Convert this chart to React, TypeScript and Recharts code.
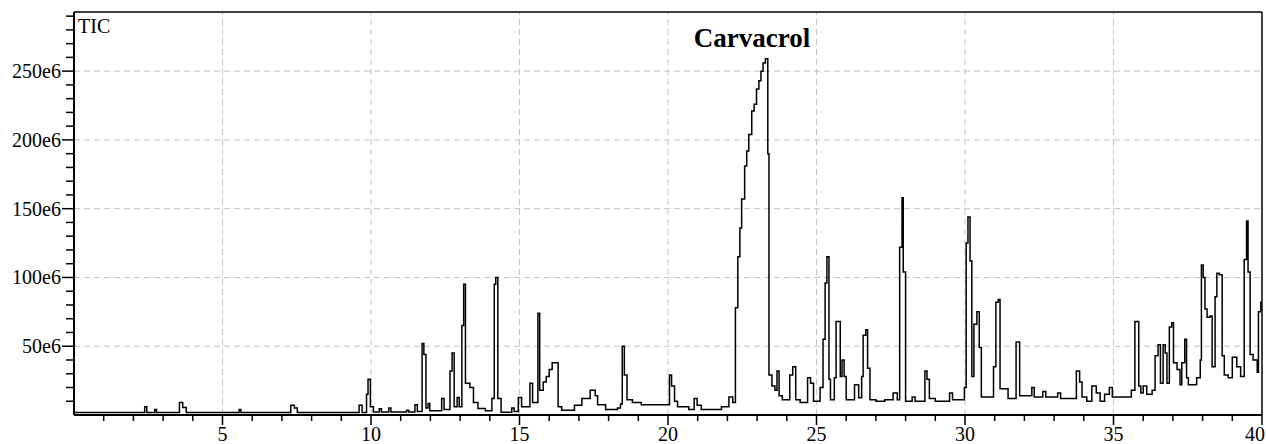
import React from 'react';
import { LineChart, Line, XAxis, YAxis, ReferenceLine, ReferenceDot } from 'recharts';

// retention time (min) and total ion current (x1e6)
const retentionTime = [
  0, 2.38, 2.45, 2.72, 2.78, 3.55, 3.66, 3.78, 5.56, 5.62, 7.3, 7.42, 7.52, 9.6, 9.7,
  9.85, 9.9, 9.98, 10.08, 10.28, 10.35, 10.6, 10.67, 11.2, 11.27, 11.48, 11.56, 11.72, 11.78, 11.85,
  11.92, 11.98, 12.38, 12.46, 12.66, 12.73, 12.8, 12.9, 12.97, 13.06, 13.12, 13.18, 13.33, 13.45, 13.6,
  13.85, 14.07, 14.15, 14.2, 14.27, 14.38, 14.74, 14.82, 14.96, 15.07, 15.35, 15.44, 15.62, 15.68, 15.8,
  15.9, 16.0, 16.1, 16.3, 16.42, 16.85, 17.1, 17.38, 17.55, 17.63, 17.9, 18.3, 18.4, 18.46, 18.53,
  18.62, 18.8, 19.1, 20.05, 20.12, 20.22, 20.32, 20.7, 20.88, 20.98, 21.12, 21.8, 22.05, 22.18, 22.27,
  22.35, 22.42, 22.48, 22.58, 22.65, 22.72, 22.82, 22.9, 22.98, 23.06, 23.13, 23.2, 23.28, 23.36, 23.4,
  23.5, 23.6, 23.67, 23.74, 23.85, 24.1, 24.2, 24.3, 24.45, 24.7, 24.8, 24.9, 25.12, 25.22, 25.29,
  25.35, 25.42, 25.47, 25.6, 25.66, 25.8, 25.86, 25.93, 26.0, 26.28, 26.42, 26.52, 26.57, 26.66, 26.72,
  26.8, 27.0, 27.3, 27.58, 27.72, 27.8, 27.88, 27.92, 28.0, 28.22, 28.32, 28.65, 28.72, 28.8, 29.0,
  29.48, 29.58, 29.98, 30.04, 30.1, 30.17, 30.23, 30.3, 30.4, 30.48, 30.55, 30.96, 31.04, 31.12, 31.18,
  31.45, 31.72, 31.84, 32.25, 32.33, 32.62, 32.72, 33.12, 33.22, 33.75, 33.86, 33.94, 34.1, 34.27, 34.42,
  34.55, 34.7, 34.86, 34.96, 35.6, 35.72, 35.85, 35.92, 36.0, 36.12, 36.3, 36.4, 36.5, 36.58, 36.67,
  36.74, 36.8, 36.88, 36.96, 37.02, 37.14, 37.24, 37.3, 37.4, 37.46, 37.52, 37.8, 37.92, 37.96, 38.02,
  38.08, 38.15, 38.25, 38.32, 38.42, 38.48, 38.56, 38.66, 38.73, 38.86, 39.0, 39.15, 39.28, 39.4, 39.48,
  39.53, 39.6, 39.7, 39.84, 39.88, 39.96, 40,
];

const ticIntensity = [
  1.8, 6, 1.8, 4, 1.8, 9, 5.5, 1.8, 4, 1.8, 7, 5, 1.8, 7, 1.8,
  15, 26, 6, 2.2, 4.5, 2.2, 5, 2.2, 3.5, 2.2, 7.5, 2.5, 52, 44, 5,
  8.4, 3, 12, 4, 32, 45, 6, 12.7, 6, 65, 95, 23, 20, 9, 4.7,
  3, 12, 95, 100, 12, 2, 5, 2.5, 12.7, 6, 23, 9, 74, 18, 24,
  28, 33, 38, 6, 3.5, 7, 12, 18, 14, 7.5, 4, 5, 8, 50, 29,
  11, 9, 7.5, 29, 21, 10, 6, 4, 12, 7, 4, 6, 13, 9, 78,
  115, 136, 157, 181, 192, 204, 221, 226, 237, 243, 250, 256, 259, 190, 29,
  21, 18, 32, 14, 11, 29, 35, 11, 9, 27, 23, 10, 20, 55, 96,
  115, 26, 11, 27, 68, 28, 40, 28, 11, 22, 12.5, 28, 58, 62, 34,
  11, 10, 11, 16, 11, 122, 158, 104, 10, 13, 10, 32, 26, 12, 10,
  16, 11, 20, 125, 144, 112, 28, 66, 75, 49, 13, 35, 82, 84, 19,
  12, 53, 14, 20, 13, 17, 13, 16, 12, 32, 24, 13, 10, 21, 16,
  10, 15, 20, 13, 18, 68, 21, 16, 21, 15, 18, 43, 51, 23, 51,
  45, 23, 64, 67, 38, 33, 22, 38, 55, 27, 22, 27, 40, 109, 100,
  77, 71, 72, 35, 86, 103, 102, 43, 29, 27, 42, 35, 28, 113, 141,
  104, 44, 40, 31, 75, 82, 82,
];

const xTicks = Array.from({ length: 40 }, (_, i) => i + 1);
const yTicks = Array.from({ length: 29 }, (_, i) => (i + 1) * 10);
const gridX = [5, 10, 15, 20, 25, 30, 35];
const gridY = [50, 100, 150, 200, 250];

const Y_MAX = 293;
const FONT = '"Liberation Serif", "Times New Roman", serif';

const data = retentionTime.map((t, i) => ({ t, tic: ticIntensity[i] }));

const YTick = (props: any) => {
  const { x, y, payload } = props;
  const major = payload.value % 50 === 0;
  const len = major ? 12 : 8;
  return (
    <g>
      <line x1={x - len} y1={y} x2={x} y2={y} stroke="#000" strokeWidth={1.5} />
      {major && (
        <text x={x - len - 1} y={y + 7} textAnchor="end" fontSize={20} fontFamily={FONT} fill="#000">
          {payload.value}e6
        </text>
      )}
    </g>
  );
};

const XTick = (props: any) => {
  const { x, y, payload } = props;
  const major = payload.value % 5 === 0;
  const len = major ? 10 : 6;
  // last label sits at the right border, keep it inside the picture
  const last = payload.value === 40;
  return (
    <g>
      <line x1={x} y1={y} x2={x} y2={y + len} stroke="#000" strokeWidth={1.5} />
      {major && (
        <text
          x={last ? x + 3 : x}
          y={y + 26}
          textAnchor={last ? 'end' : 'middle'}
          fontSize={20}
          fontFamily={FONT}
          fill="#000"
        >
          {payload.value}
        </text>
      )}
    </g>
  );
};

export default function App() {
  return (
    <div style={{ position: 'absolute', left: 0, top: 0, background: '#fff' }}>
      <LineChart width={1266} height={444} data={data} margin={{ top: 12, right: 4, left: 0, bottom: 0 }}>
        <XAxis
          dataKey="t"
          type="number"
          domain={[0, 40]}
          ticks={xTicks}
          interval={0}
          tickSize={0}
          tickMargin={0}
          tickLine={false}
          tick={<XTick />}
          height={29}
          axisLine={{ stroke: '#000', strokeWidth: 2 }}
          allowDataOverflow
        />
        <YAxis
          type="number"
          domain={[0, Y_MAX]}
          ticks={yTicks}
          interval={0}
          tickSize={0}
          tickMargin={0}
          tickLine={false}
          tick={<YTick />}
          width={74}
          axisLine={{ stroke: '#000', strokeWidth: 2 }}
          allowDataOverflow
        />
        {gridX.map((v) => (
          <ReferenceLine key={`gx-${v}`} x={v} stroke="#c4c4c4" strokeDasharray="6 4" />
        ))}
        {gridY.map((v) => (
          <ReferenceLine key={`gy-${v}`} y={v} stroke="#c4c4c4" strokeDasharray="6 4" />
        ))}
        <ReferenceLine y={Y_MAX} stroke="#000" strokeWidth={1.5} />
        <ReferenceLine x={40} stroke="#000" strokeWidth={1.5} />
        <Line
          dataKey="tic"
          type="stepAfter"
          stroke="#000"
          strokeWidth={1.5}
          dot={false}
          isAnimationActive={false}
        />
        <ReferenceDot
          x={0}
          y={Y_MAX}
          r={1}
          fill="none"
          stroke="none"
          label={{
            content: (p: any) => (
              <text x={p.viewBox.x + 5} y={p.viewBox.y + 22} fontSize={20} fontFamily={FONT} fill="#000">
                TIC
              </text>
            ),
          }}
        />
        <ReferenceDot
          x={22.83}
          y={267.6}
          r={1}
          fill="none"
          stroke="none"
          label={{
            content: (p: any) => (
              <text
                x={p.viewBox.x + 1}
                y={p.viewBox.y + 1}
                textAnchor="middle"
                fontSize={27}
                fontWeight="bold"
                fontFamily={FONT}
                fill="#000"
              >
                Carvacrol
              </text>
            ),
          }}
        />
      </LineChart>
    </div>
  );
}
